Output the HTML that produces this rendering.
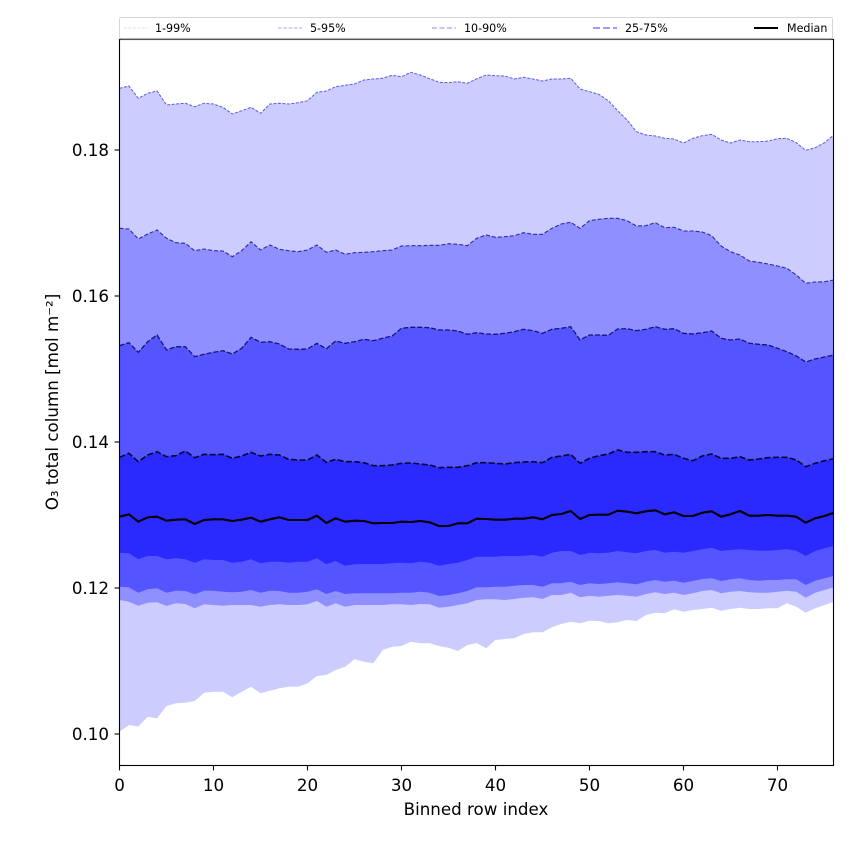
<!DOCTYPE html>
<html><head><meta charset="utf-8"><style>
html,body{margin:0;padding:0;background:#fff;}
svg{display:block;}
text{font-family:"DejaVu Sans","Liberation Sans",sans-serif;fill:#000;}
</style></head><body>
<svg width="850" height="850" viewBox="0 0 850 850" xmlns="http://www.w3.org/2000/svg">
<rect width="850" height="850" fill="#fff"/>
<g transform="translate(119.5 0) scale(9.4 1)">
<polygon fill="#ccccff" points="0,766 0,88.3 1,86 2,98.3 3,93.3 4,91 5,105 6,104 7,103.3 8,106.7 9,103.3 10,104 11,107.3 12,114 13,110.7 14,107.3 15,113.3 16,104 17,103.3 18,104 19,102.7 20,100.7 21,92.3 22,91 23,86.7 24,85.3 25,84 26,80 27,79 28,78.3 29,75.3 30,76.7 31,72.3 32,75 33,78.7 34,82.3 35,82.7 36,81.7 37,83.3 38,78.8 39,75 40,75.7 41,76 42,79 43,77.3 44,79 45,81 46,79 47,79 48,78.3 49,89 50,91.7 51,94.3 52,100.7 53,110.7 54,120 55,131.7 56,135 57,136 58,138.3 59,139 60,143 61,138.3 62,135.7 63,134.3 64,140 65,143 66,140 67,141.7 68,141.7 69,141 70,138.7 71,138.3 72,142.7 73,150.3 74,147.7 75,142.7 76,135 76,766"/>
<polygon fill="#8f8fff" points="0,766 0,228.3 1,229 2,239 3,234 4,230 5,238.3 6,242.7 7,243.3 8,250.7 9,249 10,250.7 11,251 12,256.7 13,250.7 14,241.7 15,250 16,245 17,249.3 18,250.7 19,251.7 20,250 21,245 22,252.3 23,250 24,254.3 25,252.7 26,252.3 27,251.7 28,250.7 29,250 30,246 31,245.7 32,245.7 33,245.3 34,245.3 35,243.7 36,244.3 37,245.7 38,238.3 39,235 40,237.3 41,236.7 42,235.7 43,232.7 44,234.3 45,234.3 46,228.3 47,224 48,222.3 49,228.3 50,220.7 51,219.3 52,218.3 53,218.3 54,220.7 55,226 56,225.7 57,222.7 58,227.7 59,227.3 60,231 61,231 62,232 63,235.7 64,246 65,251.7 66,255 67,261 68,262.3 69,264 70,266 71,268.3 72,275 73,283.3 74,282 75,281.7 76,280 76,766"/>
<polygon fill="#5555ff" points="0,766 0,345.7 1,342.7 2,352.3 3,341.7 4,335 5,350 6,346.7 7,346.7 8,356.7 9,354.3 10,352.3 11,350.7 12,354 13,348.3 14,337.3 15,342.3 16,341.7 17,344 18,349 19,349.3 20,349 21,343.3 22,348.7 23,341 24,343.3 25,341.7 26,339.3 27,340.7 28,338.3 29,336 30,328.3 31,327.3 32,327.3 33,327.7 34,330 35,330 36,331 37,334.3 38,332.7 39,334 40,334.3 41,333.3 42,331.7 43,329.3 44,330.7 45,333.3 46,329.3 47,328.3 48,326.7 49,340 50,335 51,335 52,335.3 53,329 54,328.7 55,330.7 56,329.3 57,326.7 58,329.3 59,328.7 60,333.3 61,334 62,332.7 63,331 64,338.3 65,340 66,339 67,343.3 68,344.3 69,345 70,348.3 71,351.7 72,356 73,362 74,359 75,357 76,355 76,766"/>
<polygon fill="#2a2aff" points="0,766 0,457.3 1,453.3 2,461.7 3,455 4,451.7 5,456.7 6,455.7 7,451 8,457.7 9,454.3 10,454.7 11,454.3 12,458.3 13,456 14,452.3 15,456 16,454.3 17,455 18,459.3 19,460 20,460 21,455 22,462.3 23,459.3 24,461.7 25,461.7 26,462.7 27,465.7 28,465.7 29,465 30,463.3 31,463 32,464 33,465 34,467.7 35,467.3 36,467.3 37,465.7 38,462.7 39,462.7 40,463.3 41,464 42,462.7 43,462 44,461.7 45,462.7 46,457.3 47,456 48,454.3 49,463.3 50,458.3 51,455.7 52,454 53,450 54,452.3 55,452.3 56,451.7 57,451.7 58,455 59,454.3 60,458.3 61,460.7 62,456 63,454 64,458.3 65,458.3 66,456.7 67,460 68,459 69,457.7 70,457.3 71,457.3 72,460 73,466.7 74,463.3 75,460.7 76,458.7 76,766"/>
<polygon fill="#5555ff" points="0,766 0,552.7 1,553.3 2,559.3 3,556 4,556 5,559.3 6,558.3 7,559.3 8,562.7 9,559.3 10,560 11,560 12,562.7 13,561.7 14,559.3 15,563.3 16,561.7 17,561.7 18,562.7 19,561.7 20,561.7 21,558.3 22,564.3 23,561 24,565.7 25,564.3 26,564 27,564 28,564 29,563.3 30,562.7 31,563.3 32,561.7 33,562.7 34,565.7 35,564 36,562.7 37,560 38,556.7 39,556.7 40,556.7 41,556 42,556 43,555.7 44,555 45,556.7 46,552.7 47,551 48,551 49,555 50,552.7 51,553.3 52,552.7 53,551 54,552.3 55,553.3 56,551 57,550 58,552.7 59,551.7 60,552.7 61,551 62,549.3 63,547.7 64,551 65,550 66,549.3 67,550 68,550.7 69,550.7 70,550 71,549.3 72,550.7 73,556 74,551 75,548.3 76,546 76,766"/>
<polygon fill="#8f8fff" points="0,766 0,586.7 1,587.3 2,592.7 3,589.3 4,588.3 5,592.7 6,590.7 7,591 8,594.3 9,590.7 10,590.7 11,591.7 12,592.3 13,591.7 14,590 15,592.7 16,590.7 17,591 18,592.7 19,592.7 20,591.7 21,589.3 22,594 23,591 24,594 25,593.3 26,593.3 27,593.3 28,593.3 29,593.3 30,592.7 31,592.7 32,591.7 33,592.7 34,596 35,595 36,593.3 37,591 38,587.3 39,587.3 40,586.7 41,586.7 42,585.7 43,585 44,585 45,586.7 46,583.3 47,583.3 48,581.7 49,585 50,583.3 51,584 52,583.3 53,582.3 54,583.3 55,584.3 56,581.7 57,580 58,581.7 59,580.7 60,582.7 61,581 62,579 63,578.3 64,581 65,579.3 66,578.3 67,580 68,580.7 69,580 70,580 71,579.3 72,579.3 73,585 74,580.7 75,578.3 76,576 76,766"/>
<polygon fill="#ccccff" points="0,766 0,600 1,601.7 2,605.7 3,602.7 4,602.3 5,606 6,603.3 7,604 8,608.3 9,604.3 10,605 11,605.7 12,605 13,605 14,605 15,606.7 16,605 17,604.3 18,605 19,605 20,604.3 21,601 22,606.7 23,603.3 24,606.7 25,605 26,605 27,605 28,605 29,604.3 30,604.3 31,605 32,604 33,604.3 34,607.7 35,606.7 36,605 37,603.3 38,600 39,599.3 40,599.3 41,600 42,599 43,597.7 44,597.3 45,599 46,595 47,595 48,592.7 49,597.3 50,595.7 51,596.7 52,595.7 53,595 54,595.7 55,596.7 56,594 57,592.3 58,594 59,592.7 60,595 61,593.3 62,591 63,590 64,593.3 65,591.7 66,591 67,592.3 68,592.7 69,592.7 70,591.7 71,590.7 72,591.7 73,597.7 74,592.7 75,590 76,587.3 76,766"/>
<polygon fill="#ffffff" points="0,766 0,731.8 1,725 2,726.5 3,716.7 4,718.3 5,706 6,703.3 7,702.7 8,701 9,692.7 10,691.7 11,691.7 12,697.3 13,691.7 14,686.7 15,693.3 16,690.7 17,688.3 18,686.7 19,686.7 20,683.3 21,676 22,675 23,670 24,666.7 25,659.3 26,661.7 27,663.3 28,650 29,646.7 30,646 31,641.7 32,643.3 33,643.3 34,646 35,647.7 36,651 37,645 38,643 39,648.3 40,640 41,639 42,638.3 43,634 44,632.3 45,632.3 46,627.3 47,624 48,621.7 49,623.3 50,620.7 51,621 52,623.3 53,622.3 54,620 55,621 56,615 57,612.7 58,613.3 59,609.3 60,611.7 61,610 62,609 63,607.7 64,610.7 65,609 66,607.7 67,609 68,609 69,608.3 70,608.3 71,603.3 72,606.7 73,612.7 74,608.3 75,605 76,601.7 76,766"/>

<polyline fill="none" stroke="#5a5ae6" stroke-width="1" stroke-dasharray="3 1.5" vector-effect="non-scaling-stroke" points="0,88.3 1,86 2,98.3 3,93.3 4,91 5,105 6,104 7,103.3 8,106.7 9,103.3 10,104 11,107.3 12,114 13,110.7 14,107.3 15,113.3 16,104 17,103.3 18,104 19,102.7 20,100.7 21,92.3 22,91 23,86.7 24,85.3 25,84 26,80 27,79 28,78.3 29,75.3 30,76.7 31,72.3 32,75 33,78.7 34,82.3 35,82.7 36,81.7 37,83.3 38,78.8 39,75 40,75.7 41,76 42,79 43,77.3 44,79 45,81 46,79 47,79 48,78.3 49,89 50,91.7 51,94.3 52,100.7 53,110.7 54,120 55,131.7 56,135 57,136 58,138.3 59,139 60,143 61,138.3 62,135.7 63,134.3 64,140 65,143 66,140 67,141.7 68,141.7 69,141 70,138.7 71,138.3 72,142.7 73,150.3 74,147.7 75,142.7 76,135"/>
<polyline fill="none" stroke="#2a2aa8" stroke-width="1.1" stroke-dasharray="4 2" vector-effect="non-scaling-stroke" points="0,228.3 1,229 2,239 3,234 4,230 5,238.3 6,242.7 7,243.3 8,250.7 9,249 10,250.7 11,251 12,256.7 13,250.7 14,241.7 15,250 16,245 17,249.3 18,250.7 19,251.7 20,250 21,245 22,252.3 23,250 24,254.3 25,252.7 26,252.3 27,251.7 28,250.7 29,250 30,246 31,245.7 32,245.7 33,245.3 34,245.3 35,243.7 36,244.3 37,245.7 38,238.3 39,235 40,237.3 41,236.7 42,235.7 43,232.7 44,234.3 45,234.3 46,228.3 47,224 48,222.3 49,228.3 50,220.7 51,219.3 52,218.3 53,218.3 54,220.7 55,226 56,225.7 57,222.7 58,227.7 59,227.3 60,231 61,231 62,232 63,235.7 64,246 65,251.7 66,255 67,261 68,262.3 69,264 70,266 71,268.3 72,275 73,283.3 74,282 75,281.7 76,280"/>
<polyline fill="none" stroke="#14147a" stroke-width="1.3" stroke-dasharray="5 2" vector-effect="non-scaling-stroke" points="0,345.7 1,342.7 2,352.3 3,341.7 4,335 5,350 6,346.7 7,346.7 8,356.7 9,354.3 10,352.3 11,350.7 12,354 13,348.3 14,337.3 15,342.3 16,341.7 17,344 18,349 19,349.3 20,349 21,343.3 22,348.7 23,341 24,343.3 25,341.7 26,339.3 27,340.7 28,338.3 29,336 30,328.3 31,327.3 32,327.3 33,327.7 34,330 35,330 36,331 37,334.3 38,332.7 39,334 40,334.3 41,333.3 42,331.7 43,329.3 44,330.7 45,333.3 46,329.3 47,328.3 48,326.7 49,340 50,335 51,335 52,335.3 53,329 54,328.7 55,330.7 56,329.3 57,326.7 58,329.3 59,328.7 60,333.3 61,334 62,332.7 63,331 64,338.3 65,340 66,339 67,343.3 68,344.3 69,345 70,348.3 71,351.7 72,356 73,362 74,359 75,357 76,355"/>
<polyline fill="none" stroke="#060630" stroke-width="1.6" stroke-dasharray="6 2.5" vector-effect="non-scaling-stroke" points="0,457.3 1,453.3 2,461.7 3,455 4,451.7 5,456.7 6,455.7 7,451 8,457.7 9,454.3 10,454.7 11,454.3 12,458.3 13,456 14,452.3 15,456 16,454.3 17,455 18,459.3 19,460 20,460 21,455 22,462.3 23,459.3 24,461.7 25,461.7 26,462.7 27,465.7 28,465.7 29,465 30,463.3 31,463 32,464 33,465 34,467.7 35,467.3 36,467.3 37,465.7 38,462.7 39,462.7 40,463.3 41,464 42,462.7 43,462 44,461.7 45,462.7 46,457.3 47,456 48,454.3 49,463.3 50,458.3 51,455.7 52,454 53,450 54,452.3 55,452.3 56,451.7 57,451.7 58,455 59,454.3 60,458.3 61,460.7 62,456 63,454 64,458.3 65,458.3 66,456.7 67,460 68,459 69,457.7 70,457.3 71,457.3 72,460 73,466.7 74,463.3 75,460.7 76,458.7"/>
<polyline fill="none" stroke="#000" stroke-width="2.1" stroke-linejoin="round" vector-effect="non-scaling-stroke" points="0,516.7 1,514.3 2,521.7 3,517.3 4,516.7 5,520.7 6,519.7 7,519.3 8,524 9,520 10,519.3 11,519.3 12,521 13,519.7 14,517.7 15,521.7 16,519.3 17,517.3 18,520 19,520 20,520 21,515.7 22,523 23,518.3 24,521.7 25,520.7 26,521 27,523.3 28,523 29,523 30,521.7 31,522 32,521 33,522.3 34,526 35,526 36,523.3 37,523.3 38,518.7 39,519 40,519.7 41,519.7 42,518.7 43,518.7 44,517.3 45,519.3 46,515 47,514 48,511 49,519 50,515 51,514.7 52,514.7 53,510.7 54,511.7 55,513.3 56,511.3 57,510.3 58,514.3 59,512.3 60,516 61,516 62,512.7 63,511.3 64,516.7 65,514.3 66,511 67,515.7 68,515.7 69,515 70,515.7 71,515.7 72,516.7 73,522.7 74,518.3 75,516 76,512.7"/>
</g>

<rect x="119.5" y="39.5" width="714" height="726" fill="none" stroke="#000" stroke-width="1.1"/>

<g stroke="#000" stroke-width="1.1">
<line x1="114.6" y1="734" x2="119.5" y2="734"/>
<line x1="114.6" y1="588" x2="119.5" y2="588"/>
<line x1="114.6" y1="442" x2="119.5" y2="442"/>
<line x1="114.6" y1="296" x2="119.5" y2="296"/>
<line x1="114.6" y1="150" x2="119.5" y2="150"/>
</g>
<g font-size="16.7" text-anchor="end">
<text x="109" y="740">0.10</text>
<text x="109" y="594">0.12</text>
<text x="109" y="448">0.14</text>
<text x="109" y="302">0.16</text>
<text x="109" y="156">0.18</text>
</g>
<g stroke="#000" stroke-width="1.1">
<line x1="119.5" y1="765.5" x2="119.5" y2="770.4"/>
<line x1="213.5" y1="765.5" x2="213.5" y2="770.4"/>
<line x1="307.5" y1="765.5" x2="307.5" y2="770.4"/>
<line x1="401.5" y1="765.5" x2="401.5" y2="770.4"/>
<line x1="495.5" y1="765.5" x2="495.5" y2="770.4"/>
<line x1="589.5" y1="765.5" x2="589.5" y2="770.4"/>
<line x1="683.5" y1="765.5" x2="683.5" y2="770.4"/>
<line x1="777.5" y1="765.5" x2="777.5" y2="770.4"/>
</g>
<g font-size="16.7" text-anchor="middle">
<text x="119.5" y="791">0</text>
<text x="213.5" y="791">10</text>
<text x="307.5" y="791">20</text>
<text x="401.5" y="791">30</text>
<text x="495.5" y="791">40</text>
<text x="589.5" y="791">50</text>
<text x="683.5" y="791">60</text>
<text x="777.5" y="791">70</text>
</g>
<text x="476" y="815" font-size="16.7" text-anchor="middle">Binned row index</text>
<text transform="translate(58 402) rotate(-90)" font-size="16.7" text-anchor="middle">O₃ total column [mol m⁻²]</text>

<rect x="119.5" y="17.5" width="713" height="21.5" rx="2" ry="2" fill="#fff" fill-opacity="0.9" stroke="#d6d6d6" stroke-width="1"/>
<line x1="119.5" y1="38.8" x2="832.5" y2="38.8" stroke="#999" stroke-width="1.2"/>
<line x1="124" y1="28" x2="148" y2="28" stroke="#d4d4ff" stroke-width="0.8" stroke-dasharray="3 1.5"/>
<line x1="278" y1="28" x2="302" y2="28" stroke="#a4a4f0" stroke-width="0.9" stroke-dasharray="3.5 1.8"/>
<line x1="432" y1="28" x2="456" y2="28" stroke="#8a8aff" stroke-width="1.1" stroke-dasharray="5 2.5"/>
<line x1="593" y1="28" x2="617" y2="28" stroke="#7a7aff" stroke-width="1.6" stroke-dasharray="7 3"/>
<line x1="754" y1="28" x2="778" y2="28" stroke="#000" stroke-width="2.1"/>
<g font-size="11.1">
<text x="155" y="32">1-99%</text>
<text x="310" y="32">5-95%</text>
<text x="464" y="32">10-90%</text>
<text x="625" y="32">25-75%</text>
<text x="787" y="32">Median</text>
</g>
</svg>
</body></html>
